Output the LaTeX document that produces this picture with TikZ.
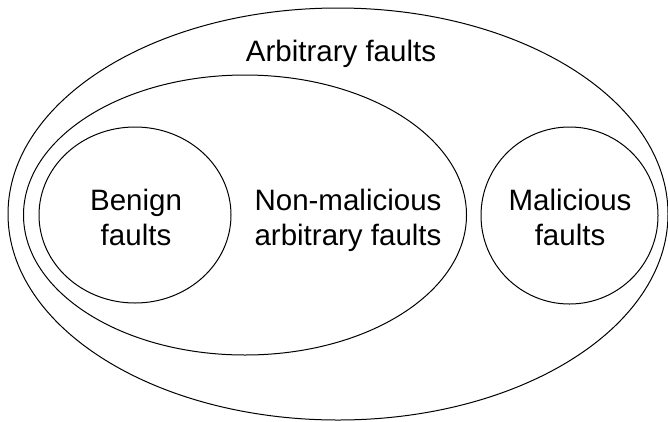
\documentclass[tikz,border=0pt]{standalone}
\usepackage{fontspec}
\setmainfont{Liberation Sans}
\usetikzlibrary{shapes.geometric}
\begin{document}
\begin{tikzpicture}[x=1pt,y=1pt,
  set/.style={draw=black, line width=1pt, ellipse, inner sep=0pt},
  lbl/.style={font=\fontsize{29.5}{35}\selectfont, align=center, anchor=base, inner sep=0pt}]
\useasboundingbox (0,0) rectangle (668,-421);
\node[set, minimum width=660pt, minimum height=412pt] (arb) at (338,-214) {};
\node[set, minimum width=443pt, minimum height=280pt] (nonmal) at (245,-215) {};
\node[set, minimum width=192pt, minimum height=176pt] (benign) at (135,-215) {};
\node[set, minimum width=177pt, minimum height=177pt] (mal) at (569.5,-215.5) {};
\node[lbl] (arbtxt) at (341,-61) {Arbitrary faults};
\node[lbl] (bentxt) at (136,-245) {Benign\\faults};
\node[lbl] (nontxt) at (348,-245) {Non-malicious\\arbitrary faults};
\node[lbl] (maltxt) at (570,-245) {Malicious\\faults};
\end{tikzpicture}
\end{document}
